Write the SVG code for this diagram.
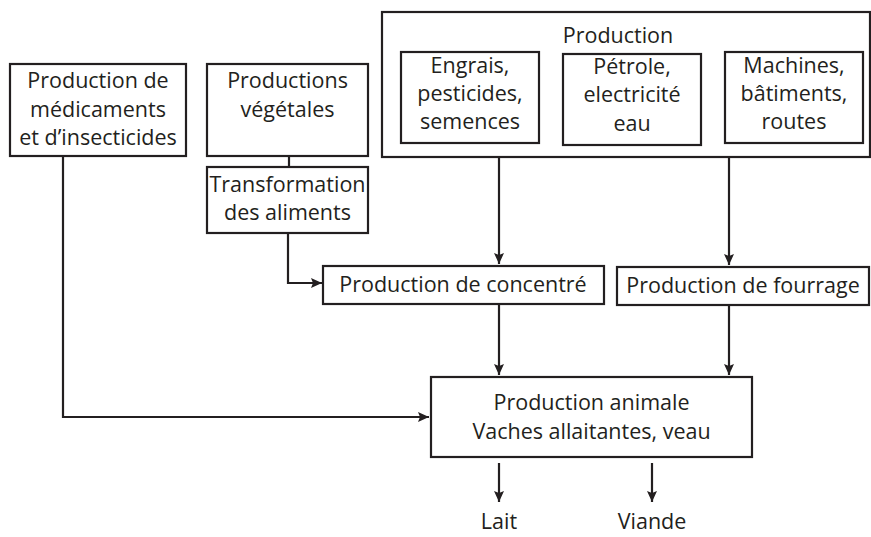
<svg xmlns="http://www.w3.org/2000/svg" width="871" height="537" viewBox="0 0 871 537">
<style>
.box{fill:#fff;stroke:#231f20;stroke-width:2.2}
.ln{fill:none;stroke:#231f20;stroke-width:2.2}
text{font-family:"Open Sans","Noto Sans",sans-serif;font-size:21.5px;fill:#231f20;text-anchor:middle}
</style>
<defs>
<marker id="ah" markerUnits="userSpaceOnUse" markerWidth="12" markerHeight="12" refX="11" refY="5" orient="auto">
<path d="M0,0 L11,5 L0,10 L2,5 z" fill="#231f20"/>
</marker>
</defs>
<rect width="871" height="537" fill="#fff"/>
<g id="connectors">
<line class="ln" x1="289" y1="156" x2="289" y2="167"/>
<polyline class="ln" points="288,233 288,283 322,283" marker-end="url(#ah)"/>
<line class="ln" x1="499" y1="157" x2="499" y2="264" marker-end="url(#ah)"/>
<line class="ln" x1="729" y1="157" x2="729" y2="265" marker-end="url(#ah)"/>
<line class="ln" x1="499" y1="304" x2="499" y2="375" marker-end="url(#ah)"/>
<line class="ln" x1="729" y1="305" x2="729" y2="375" marker-end="url(#ah)"/>
<polyline class="ln" points="63,156 63,417 429,417" marker-end="url(#ah)"/>
<line class="ln" x1="499" y1="463" x2="499" y2="502" marker-end="url(#ah)"/>
<line class="ln" x1="652" y1="463" x2="652" y2="502" marker-end="url(#ah)"/>
</g>
<g id="medicaments">
<rect class="box" x="10" y="64" width="176" height="92"/>
<text x="98" y="88">Production de</text>
<text x="98" y="117">médicaments</text>
<text x="98" y="145">et d’insecticides</text>
</g>
<g id="vegetales">
<rect class="box" x="207" y="64" width="161" height="92"/>
<text x="287.5" y="88">Productions</text>
<text x="287.5" y="117">végétales</text>
</g>
<g id="transformation">
<rect class="box" x="207" y="167" width="161" height="66"/>
<text x="287.5" y="192">Transformation</text>
<text x="287.5" y="220">des aliments</text>
</g>
<g id="production">
<rect class="box" x="382" y="12" width="488" height="145"/>
<text x="618" y="43">Production</text>
</g>
<g id="engrais">
<rect class="box" x="401" y="52" width="138" height="91"/>
<text x="470" y="73">Engrais,</text>
<text x="470" y="101">pesticides,</text>
<text x="470" y="129">semences</text>
</g>
<g id="petrole">
<rect class="box" x="563" y="54" width="138" height="91"/>
<text x="632" y="74">Pétrole,</text>
<text x="632" y="102">electricité</text>
<text x="632" y="131">eau</text>
</g>
<g id="machines">
<rect class="box" x="725" y="52" width="138" height="91"/>
<text x="794" y="73">Machines,</text>
<text x="794" y="101">bâtiments,</text>
<text x="794" y="129">routes</text>
</g>
<g id="concentre">
<rect class="box" x="323" y="266" width="281" height="38"/>
<text x="463" y="292">Production de concentré</text>
</g>
<g id="fourrage">
<rect class="box" x="617" y="267" width="252" height="38"/>
<text x="743" y="293">Production de fourrage</text>
</g>
<g id="animale">
<rect class="box" x="431" y="377" width="321" height="80"/>
<text x="591.5" y="410">Production animale</text>
<text x="591.5" y="439">Vaches allaitantes, veau</text>
</g>
<g id="lait"><text x="499" y="529">Lait</text></g>
<g id="viande"><text x="652" y="529">Viande</text></g>
</svg>
